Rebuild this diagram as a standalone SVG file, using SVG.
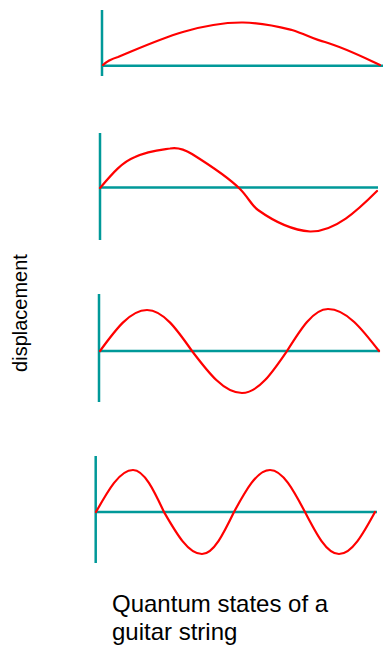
<svg xmlns="http://www.w3.org/2000/svg" width="383" height="645" viewBox="0 0 383 645">
<style>
.axis{stroke:#009999;stroke-width:2.5;fill:none}
.wave{stroke:#ff0000;stroke-width:2.2;fill:none;stroke-linejoin:round;stroke-linecap:round}
text{font-family:"Liberation Sans",Arial,sans-serif;fill:#000}
</style>
<rect width="383" height="645" fill="#fff"/>
<g id="state1">
<path class="axis" d="M102,10 V76 M102,65.7 H383"/>
<path class="wave" d="M103,65 Q108,60 118,57 C150,44 195,22 243,22.5 C265,23 280,27 292,30 C305,34 315,40 325,42 C345,48 365,58 380,65"/>
</g>
<g id="state2">
<path class="axis" d="M100,133 V240 M100,187.5 H378"/>
<path class="wave" d="M100,188 C112,174 122,162 135,157 C148,151 160,150 170,148.5 C178,147 184,149 192,154 C208,164 228,177 240,189 C248,197 252,206 258,210 C272,220 290,230 310,231.5 C335,232 358,210 377,191"/>
</g>
<g id="state3">
<path class="axis" d="M99,294 V402 M99,351 H380"/>
<path class="wave" d="M100,351 C115.3,330 130,310 147,310 C163.3,310 177.3,330 192,351 C208.3,372.5 223.9,393 242,393 C258.3,393 272.3,372.5 287,351 C300.4,329.5 313.2,309 328,309 C346.5,309 362.4,329.5 379,351"/>
</g>
<g id="state4">
<path class="axis" d="M95.7,456 V563 M95.7,512 H377"/>
<path class="wave" d="M96,512 C108.1,490.5 119.6,470 133,470 C144.2,470 153.9,490.5 164,512 C176.4,533.5 188.2,554 202,554 C213.6,554 223.6,533.5 234,512 C245.7,490.5 257,470 270,470 C282.7,470 293.6,490.5 305,512 C316.1,533.5 326.7,554 339,554 C352,554 363.3,533.5 375,512"/>
</g>
<g id="labels">
<text transform="translate(27,313) rotate(-90)" text-anchor="middle" font-size="20">displacement</text>
<text x="112" y="612" font-size="24">Quantum states of a</text>
<text x="112" y="640" font-size="24">guitar string</text>
</g>
</svg>
